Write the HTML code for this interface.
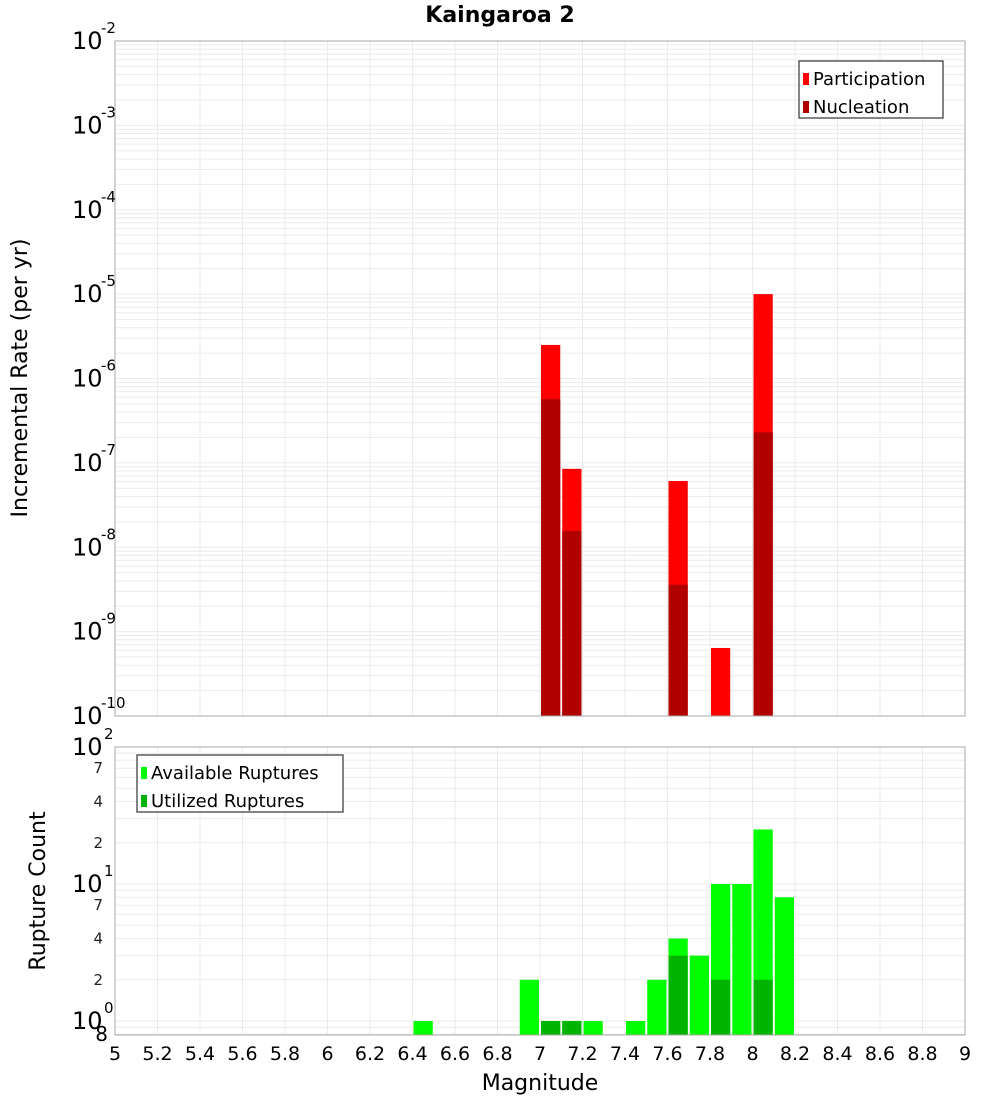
<!DOCTYPE html>
<html><head><meta charset="utf-8"><style>
body{margin:0;background:#fff;}
svg{display:block;font-family:"DejaVu Sans","Liberation Sans",sans-serif;}
</style></head><body>
<svg id="c" width="1000" height="1100"></svg>
<script>
const topMags=[7.05,7.15,7.65,7.85,8.05];
const participation=[2.5e-6,8.5e-8,6.1e-8,6.4e-10,1.0e-5];
const nucleation=[5.7e-7,1.56e-8,3.6e-9,0,2.3e-7];
const botMags=[6.45,6.95,7.05,7.15,7.25,7.45,7.55,7.65,7.75,7.85,7.95,8.05,8.15];
const available=[1,2,1,1,1,1,2,4,3,10,10,25,8];
const utilized=[0,0,1,1,0,0,0,3,0,2,0,2,0];
const xTicks=[5,5.2,5.4,5.6,5.8,6,6.2,6.4,6.6,6.8,7,7.2,7.4,7.6,7.8,8,8.2,8.4,8.6,8.8,9];

const NS="http://www.w3.org/2000/svg";
const svg=document.getElementById('c');
function el(tag,attrs,parent){const e=document.createElementNS(NS,tag);for(const k in attrs)e.setAttribute(k,attrs[k]);(parent||svg).appendChild(e);return e;}
const X0=115,X1=965;
const xs=m=>X0+(m-5)/4*(X1-X0);
const T0=41,T1=716;
const yt=v=>T0+(-2-Math.log10(v))/8*(T1-T0);
const B0=747,B1=1035;
const dec=137, yb=v=>B0+(2-Math.log10(v))*dec;

// top grid
for(let d=-10;d<-2;d++)for(let k=1;k<10;k++){const y=yt(k*Math.pow(10,d));const l=el('line',{x1:X0,x2:X1,y1:y,y2:y,stroke:'#ebebeb'});}
xTicks.forEach(t=>{const l=el('line',{x1:xs(t),x2:xs(t),y1:T0,y2:T1,stroke:'#ebebeb'});});
// bottom grid
for(let d=-1;d<2;d++)for(let k=1;k<10;k++){const v=k*Math.pow(10,d);if(v<0.8)continue;const y=yb(v);const l=el('line',{x1:X0,x2:X1,y1:y,y2:y,stroke:'#ebebeb'});}
xTicks.forEach(t=>{const l=el('line',{x1:xs(t),x2:xs(t),y1:B0,y2:B1,stroke:'#ebebeb'});});

const bw=xs(5.1)-xs(5)-2;
topMags.forEach((m,i)=>{
  const x=xs(m)-bw/2;
  const p=el('rect',{x:x,y:yt(participation[i]),width:bw,height:T1-yt(participation[i]),fill:'#ff0000'});
  
  if(nucleation[i]>0){const n=el('rect',{x:x,y:yt(nucleation[i]),width:bw,height:T1-yt(nucleation[i]),fill:'#b00000'});
  }
});
botMags.forEach((m,i)=>{
  const x=xs(m)-bw/2;
  const a=el('rect',{x:x,y:yb(available[i]),width:bw,height:B1-yb(available[i]),fill:'#00ff00'});
  
  if(utilized[i]>0){const u=el('rect',{x:x,y:yb(utilized[i]),width:bw,height:B1-yb(utilized[i]),fill:'#00b400'});
  }
});
el('rect',{x:X0,y:T0,width:X1-X0,height:T1-T0,fill:'none',stroke:'#aaa'});
el('rect',{x:X0,y:B0,width:X1-X0,height:B1-B0,fill:'none',stroke:'#aaa'});

// top y labels
for(let d=-10;d<=-2;d++){const y=yt(Math.pow(10,d));
  const t=el('text',{x:72,y:y+8,'font-size':24,fill:'#000'});t.textContent='10';
  
  const s=el('text',{x:101,y:y-8,'font-size':15});s.textContent=String(d);
  }
// bottom y labels
[[100,'2'],[10,'1'],[1,'0']].forEach(([v,e])=>{const y=yb(v);
  const t=el('text',{x:72,y:y+8,'font-size':24});t.textContent='10';
  
  const s=el('text',{x:104,y:y-8,'font-size':15});s.textContent=e;
  });
[70,40,20,7,4,2].forEach(v=>{const t=el('text',{x:103,y:yb(v)+5,'font-size':15,'text-anchor':'end',fill:'#222'});t.textContent=String(v).charAt(0);
  });
{const t=el('text',{x:108,y:1041,'font-size':20,'text-anchor':'end'});t.textContent='8';}
xTicks.forEach(v=>{const t=el('text',{x:xs(v),y:1060,'font-size':19,'text-anchor':'middle'});t.textContent=String(v);
  });

function txt(x,y,s,attrs,name){const t=el('text',Object.assign({x:x,y:y},attrs));t.textContent=s;return t;}
txt(500,22,'Kaingaroa 2',{'font-size':22,'font-weight':'bold','text-anchor':'middle'},'chart-title');
txt(540,1090,'Magnitude',{'font-size':22,'text-anchor':'middle'},'x-axis-title');
txt(27,378,'Incremental Rate (per yr)',{'font-size':22,'text-anchor':'middle',transform:'rotate(-90 27 378)'},'y-axis-title');
txt(45,891,'Rupture Count',{'font-size':22,'text-anchor':'middle',transform:'rotate(-90 45 891)'},'y-axis-title-bottom');

// legends
function legend(x,y,w,items,name){const g=el('g',{});
  el('rect',{x:x,y:y,width:w,height:57,fill:'#fff',stroke:'#333','stroke-width':1.2},g);
  items.forEach((it,i)=>{el('rect',{x:x+4,y:y+12+i*28,width:6,height:12,fill:it[1]},g);
    const t=el('text',{x:x+14,y:y+24+i*28,'font-size':18},g);t.textContent=it[0];});}
legend(799,61,144,[['Participation','#ff0000'],['Nucleation','#b00000']],'legend-top');
legend(137,755,206,[['Available Ruptures','#00ff00'],['Utilized Ruptures','#00b400']],'legend-bottom');
</script>
</body></html>
